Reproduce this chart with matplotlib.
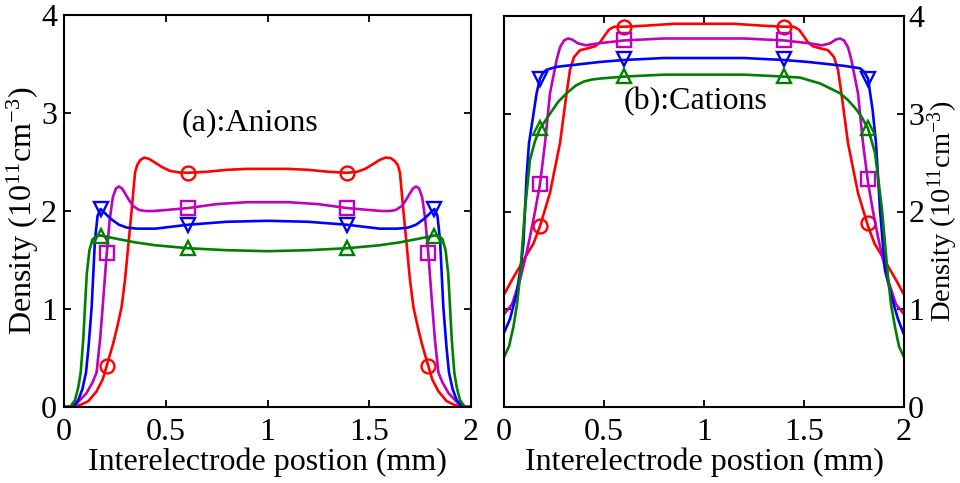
import matplotlib
matplotlib.use("Agg")
import matplotlib.pyplot as plt

# ---------------- data: (a) Anions ----------------
an_red_x = [0, 0.04, 0.08, 0.12, 0.16, 0.19, 0.21, 0.242, 0.263, 0.283, 0.30, 0.316, 0.333, 0.349, 0.36, 0.375, 0.395, 0.42, 0.45, 0.48, 0.52, 0.56, 0.61, 0.70, 0.80, 0.90, 1.00, 1.10, 1.20, 1.30, 1.39, 1.44, 1.48, 1.52, 1.55, 1.58, 1.605, 1.625, 1.64, 1.651, 1.667, 1.684, 1.70, 1.717, 1.737, 1.758, 1.79, 1.81, 1.84, 1.88, 1.92, 1.96, 2.0]
an_red_y = [0, 0.0, 0.02, 0.06, 0.16, 0.28, 0.42, 0.65, 0.83, 1.02, 1.30, 1.65, 2.02, 2.39, 2.47, 2.52, 2.545, 2.53, 2.49, 2.45, 2.41, 2.395, 2.39, 2.40, 2.42, 2.43, 2.43, 2.43, 2.42, 2.40, 2.39, 2.40, 2.43, 2.48, 2.52, 2.545, 2.54, 2.51, 2.47, 2.39, 2.02, 1.65, 1.30, 1.02, 0.83, 0.65, 0.42, 0.28, 0.16, 0.06, 0.02, 0.0, 0]

an_mag_x = [0, 0.03, 0.06, 0.11, 0.14, 0.16, 0.177, 0.19, 0.21, 0.225, 0.24, 0.255, 0.27, 0.285, 0.30, 0.32, 0.34, 0.37, 0.40, 0.44, 0.50, 0.61, 0.75, 0.90, 1.00, 1.10, 1.25, 1.39, 1.50, 1.56, 1.60, 1.63, 1.66, 1.68, 1.70, 1.715, 1.73, 1.745, 1.76, 1.775, 1.79, 1.81, 1.823, 1.84, 1.86, 1.89, 1.94, 1.97, 2.0]
an_mag_y = [0, 0.0, 0.03, 0.14, 0.25, 0.35, 0.68, 1.02, 1.57, 1.92, 2.14, 2.23, 2.25, 2.23, 2.18, 2.11, 2.05, 2.01, 2.00, 2.00, 2.01, 2.03, 2.07, 2.09, 2.09, 2.09, 2.07, 2.03, 2.01, 2.00, 2.00, 2.01, 2.05, 2.11, 2.18, 2.23, 2.25, 2.23, 2.14, 1.92, 1.57, 1.02, 0.68, 0.35, 0.25, 0.14, 0.03, 0.0, 0]

an_blu_x = [0, 0.03, 0.05, 0.07, 0.09, 0.108, 0.12, 0.136, 0.152, 0.165, 0.18, 0.20, 0.23, 0.27, 0.31, 0.36, 0.45, 0.61, 0.80, 1.00, 1.20, 1.39, 1.55, 1.64, 1.69, 1.73, 1.77, 1.80, 1.82, 1.835, 1.848, 1.864, 1.88, 1.892, 1.91, 1.93, 1.95, 1.97, 2.0]
an_blu_y = [0, 0.0, 0.02, 0.07, 0.18, 0.35, 0.60, 1.02, 1.70, 1.95, 2.02, 1.98, 1.92, 1.86, 1.83, 1.82, 1.82, 1.86, 1.89, 1.90, 1.89, 1.86, 1.82, 1.82, 1.83, 1.86, 1.92, 1.98, 2.02, 1.95, 1.70, 1.02, 0.60, 0.35, 0.18, 0.07, 0.02, 0.0, 0]

an_grn_x = [0, 0.03, 0.054, 0.07, 0.082, 0.095, 0.103, 0.112, 0.125, 0.14, 0.16, 0.18, 0.25, 0.35, 0.45, 0.61, 0.80, 1.00, 1.20, 1.39, 1.55, 1.65, 1.75, 1.82, 1.845, 1.86, 1.875, 1.888, 1.897, 1.905, 1.918, 1.93, 1.946, 1.97, 2.0]
an_grn_y = [0, 0.0, 0.07, 0.20, 0.35, 0.70, 1.02, 1.36, 1.60, 1.71, 1.745, 1.75, 1.72, 1.68, 1.65, 1.62, 1.60, 1.59, 1.60, 1.62, 1.65, 1.68, 1.72, 1.75, 1.745, 1.71, 1.60, 1.36, 1.02, 0.70, 0.35, 0.20, 0.07, 0.0, 0]

an_red_mx = [0.21, 0.61, 1.39, 1.79]
an_red_my = [0.42, 2.39, 2.39, 0.42]
an_mag_mx = [0.21, 0.61, 1.39, 1.79]
an_mag_my = [1.57, 2.03, 2.03, 1.57]
an_blu_mx = [0.18, 0.61, 1.39, 1.82]
an_blu_my = [2.02, 1.86, 1.86, 2.02]
an_grn_mx = [0.18, 0.61, 1.39, 1.82]
an_grn_my = [1.75, 1.62, 1.62, 1.75]

# ---------------- data: (b) Cations ----------------
ca_red_x = [0, 0.04, 0.08, 0.12, 0.147, 0.18, 0.23, 0.28, 0.313, 0.33, 0.35, 0.38, 0.42, 0.455, 0.48, 0.50, 0.525, 0.55, 0.60, 0.70, 0.85, 1.00, 1.15, 1.30, 1.40, 1.45, 1.475, 1.50, 1.52, 1.545, 1.58, 1.62, 1.65, 1.67, 1.687, 1.72, 1.77, 1.82, 1.853, 1.88, 1.92, 1.96, 2.0]
ca_red_y = [1.15, 1.30, 1.44, 1.58, 1.67, 1.85, 2.19, 2.70, 3.21, 3.45, 3.58, 3.65, 3.67, 3.69, 3.73, 3.79, 3.86, 3.89, 3.89, 3.90, 3.92, 3.92, 3.92, 3.90, 3.89, 3.89, 3.86, 3.79, 3.73, 3.69, 3.67, 3.65, 3.58, 3.45, 3.21, 2.70, 2.19, 1.85, 1.67, 1.58, 1.44, 1.30, 1.15]

ca_mag_x = [0, 0.04, 0.08, 0.11, 0.13, 0.155, 0.18, 0.205, 0.23, 0.263, 0.28, 0.30, 0.32, 0.34, 0.37, 0.41, 0.47, 0.60, 0.80, 1.00, 1.20, 1.40, 1.53, 1.59, 1.63, 1.66, 1.68, 1.70, 1.72, 1.737, 1.77, 1.795, 1.82, 1.845, 1.87, 1.89, 1.92, 1.96, 2.0]
ca_mag_y = [0.95, 1.05, 1.30, 1.55, 1.74, 2.00, 2.28, 2.70, 3.21, 3.55, 3.68, 3.75, 3.77, 3.76, 3.72, 3.70, 3.72, 3.75, 3.77, 3.77, 3.77, 3.75, 3.72, 3.70, 3.72, 3.76, 3.77, 3.75, 3.68, 3.55, 3.21, 2.70, 2.30, 2.00, 1.74, 1.55, 1.30, 1.05, 0.95]

ca_blu_x = [0, 0.03, 0.063, 0.085, 0.097, 0.113, 0.125, 0.138, 0.163, 0.18, 0.195, 0.213, 0.263, 0.48, 0.60, 0.80, 1.00, 1.20, 1.40, 1.52, 1.70, 1.78, 1.80, 1.82, 1.843, 1.86, 1.88, 1.905, 1.947, 1.97, 2.0]
ca_blu_y = [0.76, 0.90, 1.16, 1.45, 1.67, 2.36, 2.70, 2.87, 3.21, 3.36, 3.42, 3.45, 3.48, 3.53, 3.55, 3.57, 3.57, 3.57, 3.55, 3.53, 3.49, 3.465, 3.43, 3.36, 3.04, 2.70, 2.02, 1.40, 1.06, 0.90, 0.74]

ca_grn_x = [0, 0.025, 0.047, 0.065, 0.08, 0.105, 0.13, 0.155, 0.18, 0.23, 0.27, 0.313, 0.36, 0.40, 0.44, 0.48, 0.60, 0.80, 1.00, 1.20, 1.40, 1.48, 1.58, 1.68, 1.72, 1.763, 1.79, 1.82, 1.855, 1.89, 1.92, 1.935, 1.955, 1.975, 2.0]
ca_grn_y = [0.51, 0.62, 0.82, 1.05, 1.33, 2.02, 2.53, 2.72, 2.85, 3.00, 3.12, 3.21, 3.29, 3.33, 3.35, 3.36, 3.38, 3.40, 3.40, 3.40, 3.38, 3.37, 3.31, 3.21, 3.14, 3.04, 2.96, 2.85, 2.60, 2.02, 1.33, 1.05, 0.82, 0.62, 0.51]

ca_red_mx = [0.18, 0.60, 1.40, 1.82]
ca_red_my = [1.85, 3.89, 3.89, 1.88]
ca_mag_mx = [0.18, 0.60, 1.40, 1.82]
ca_mag_my = [2.28, 3.75, 3.75, 2.33]
ca_blu_mx = [0.18, 0.60, 1.40, 1.82]
ca_blu_my = [3.36, 3.56, 3.56, 3.36]
ca_grn_mx = [0.18, 0.60, 1.40, 1.82]
ca_grn_my = [2.85, 3.39, 3.39, 2.85]

x_ticks = [0, 0.5, 1, 1.5, 2]
x_ticklabels = ["0", "0.5", "1", "1.5", "2"]
y_ticks = [0, 1, 2, 3, 4]
y_ticklabels = ["0", "1", "2", "3", "4"]

xlabel = "Interelectrode postion (mm)"
ylabel = r"Density (10$^{11}$cm$^{-3}$)"

# ---------------- style ----------------
plt.rcParams['font.family'] = ['Liberation Serif', 'DejaVu Serif']
plt.rcParams['mathtext.fontset'] = 'custom'
plt.rcParams['mathtext.rm'] = 'Liberation Serif'
plt.rcParams['mathtext.it'] = 'Liberation Serif:italic'

RED = '#ff0000'
MAG = '#bf00bf'
BLU = '#0000ff'
GRN = '#007f00'
LW = 1.9
MS = 10
FS = 23

fig = plt.figure(figsize=(9.6, 4.83), dpi=100)
ax1 = fig.add_axes([64/960, 1-407/483, (471-64)/960, (407-15)/483])
ax2 = fig.add_axes([504/960, 1-407/483, (904-504)/960, (407-16)/483])

def draw(ax, series):
    for (x, y, mx, my, c, m) in series:
        ax.plot(x, y, color=c, lw=LW, solid_joinstyle='round')
        ax.plot(mx, my, linestyle='none', marker=m, ms=MS, mfc='none',
                mec=c, mew=1.7)

draw(ax1, [
    (an_red_x, an_red_y, an_red_mx, an_red_my, RED, 'o'),
    (an_mag_x, an_mag_y, an_mag_mx, an_mag_my, MAG, 's'),
    (an_blu_x, an_blu_y, an_blu_mx, an_blu_my, BLU, 'v'),
    (an_grn_x, an_grn_y, an_grn_mx, an_grn_my, GRN, '^'),
])
draw(ax2, [
    (ca_red_x, ca_red_y, ca_red_mx, ca_red_my, RED, 'o'),
    (ca_mag_x, ca_mag_y, ca_mag_mx, ca_mag_my, MAG, 's'),
    (ca_blu_x, ca_blu_y, ca_blu_mx, ca_blu_my, BLU, 'v'),
    (ca_grn_x, ca_grn_y, ca_grn_mx, ca_grn_my, GRN, '^'),
])

for ax in (ax1, ax2):
    ax.set_xlim(0, 2)
    ax.set_ylim(0, 4)
    ax.set_xticks(x_ticks)
    ax.set_xticklabels(x_ticklabels)
    ax.set_yticks(y_ticks)
    ax.set_yticklabels(y_ticklabels)
    ax.tick_params(direction='in', length=5, width=1.3, labelsize=FS,
                   top=True, bottom=True, left=True, right=True)
    ax.tick_params(axis='x', pad=8)
    ax.tick_params(axis='y', pad=5)
    for s in ax.spines.values():
        s.set_linewidth(1.5)
    ax.set_xlabel(xlabel, fontsize=FS, labelpad=0)

ax1.set_ylabel(ylabel, fontsize=FS, labelpad=0)
ax2.tick_params(labelleft=False, labelright=True)
ax2.tick_params(axis='y', pad=3)
ax2.yaxis.set_label_position('right')
ax2.set_ylabel(ylabel, fontsize=20.5, labelpad=1)

ax1.text(0.915, 2.90, "(a):Anions", fontsize=FS, ha='center', va='center')
ax2.text(0.96, 3.12, "(b):Cations", fontsize=FS, ha='center', va='center')

fig.savefig("out.png", dpi=100)
